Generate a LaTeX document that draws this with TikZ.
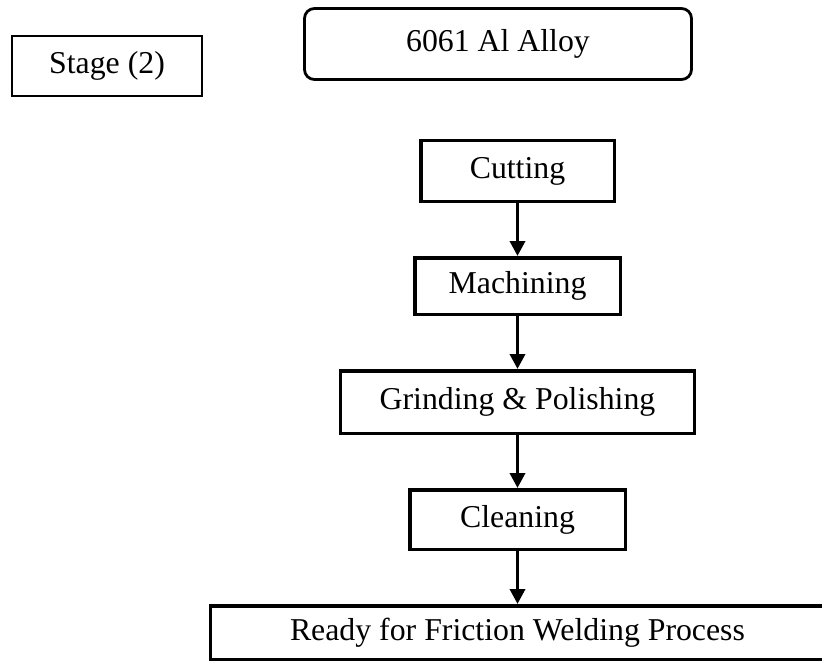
\documentclass[tikz,border=0pt]{standalone}
\usepackage{fontspec}
\setmainfont{Liberation Serif}
\usetikzlibrary{arrows.meta,positioning}
\tikzset{
    procbox/.style={draw, line width=1.75bp, font=\fontsize{15.9bp}{19bp}\selectfont, inner sep=0pt},
    stagebox/.style={procbox, line width=0.9bp, minimum width=95bp, minimum height=30bp},
    alloynode/.style={procbox, line width=1.4bp, rounded corners=5bp, minimum width=193.5bp, minimum height=35.5bp},
    flowarrow/.style={-{Triangle[length=7.5bp,width=7.5bp]}, line width=1.75bp}
}

\begin{document}
\begin{tikzpicture}[x=0.5bp, y=-0.5bp, node distance=26.5bp]
        \useasboundingbox (0,0) rectangle (822,662);
        \node[stagebox] (stage) at (107,66) {Stage (2)};
        \node[alloynode] (alloy) at (498,44) {6061 Al Alloy};

        \node[procbox, minimum width=96.75bp, minimum height=30.25bp] (cut) at (517.5,171) {Cutting};
        \node[procbox, minimum width=102.75bp, minimum height=28.25bp, below=of cut] (mach) {Machining};
        \node[procbox, minimum width=176.75bp, minimum height=31.25bp, below=of mach] (grind) {Grinding \& Polishing};
        \node[procbox, minimum width=107.75bp, minimum height=29.75bp, below=of grind] (clean) {Cleaning};
        \node[procbox, minimum width=306.75bp, minimum height=26.75bp, below=of clean] (ready) {Ready for Friction Welding Process};

        \draw[flowarrow] (cut) -- (mach);
        \draw[flowarrow] (mach) -- (grind);
        \draw[flowarrow] (grind) -- (clean);
        \draw[flowarrow] (clean) -- (ready);
    \end{tikzpicture}
\end{document}
